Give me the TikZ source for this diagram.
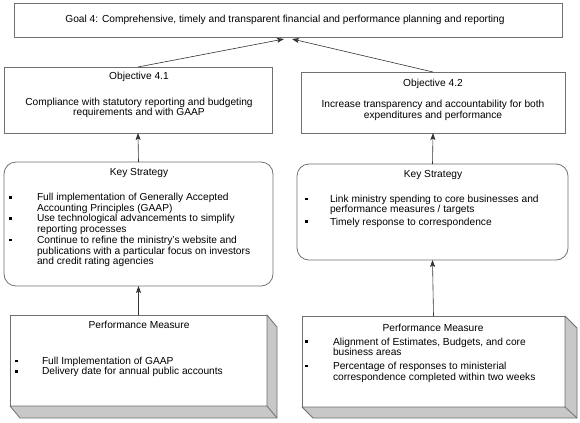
\documentclass[tikz,border=0pt]{standalone}
\usepackage{fontspec}
\setmainfont{Liberation Sans}
\usetikzlibrary{arrows.meta,calc}
\definecolor{boxline}{HTML}{707070}
\definecolor{shade}{HTML}{C8C8C8}
\newcommand{\bsq}{\rule[2bp]{2.6bp}{2.6bp}}
\newcommand{\bitem}[1]{\makebox[28bp][l]{\bsq}#1}
\newcommand{\bcont}[1]{\hspace*{28bp}#1}
\begin{document}
\begin{tikzpicture}[x=1bp,y=-1bp,
  font=\fontsize{10.2bp}{10.7bp}\selectfont,
  box/.style={draw=boxline,line width=0.8bp,fill=white,inner sep=0pt,outer sep=0pt,anchor=north west},
  rbox/.style={box,rounded corners=12bp},
  txt/.style={inner sep=0pt,outer sep=0pt},
  blist/.style={txt,align=left,anchor=west},
  conn/.style={draw=black!80,line width=0.6bp,-{Stealth[length=7bp,width=5bp,inset=1.5bp]}},
  depth/.style={fill=shade,draw=boxline,line width=0.8bp,line join=round}]
\useasboundingbox (0,0) rectangle (580,422);

% boxes
\node[box,minimum width=548bp,minimum height=34bp] (goal) at (14,3) {};
\node[box,minimum width=268bp,minimum height=66bp] (obj1) at (4,67) {};
\node[box,minimum width=264bp,minimum height=61bp] (obj2) at (301,72) {};
\node[rbox,minimum width=269bp,minimum height=124bp] (ks1) at (4,162) {};
\node[rbox,minimum width=271bp,minimum height=96bp] (ks2) at (297,164) {};
\node[box,minimum width=257bp,minimum height=91bp] (pm1) at (10,315) {};
\node[box,minimum width=263bp,minimum height=91bp] (pm2) at (302,316) {};

% 3-D depth of performance measure boxes
\path[depth] (pm1.north east) -- ++(10,12) |- ($(pm1.south west)+(10,12)$) -- (pm1.south west) -- (pm1.south east) -- cycle;
\draw[boxline,line width=0.8bp] (pm1.south east) -- ++(10,12);
\path[depth] (pm2.north east) -- ++(12,12) |- ($(pm2.south west)+(11,11)$) -- (pm2.south west) -- (pm2.south east) -- cycle;
\draw[boxline,line width=0.8bp] (pm2.south east) -- ++(12,11);

% texts
\node[txt] (goalt) at (285,20) {Goal 4: Comprehensive, timely and transparent financial and performance planning and reporting};

\node[txt] (obj1t) at (139,77) {Objective 4.1};
\node[txt,align=center] (obj1b) at (139,108) {Compliance with statutory reporting and budgeting\\requirements and with GAAP};

\node[txt] (obj2t) at (433,84) {Objective 4.2};
\node[txt,align=center] (obj2b) at (433,110.5) {Increase transparency and accountability for both\\expenditures and performance};

\node[txt] (ks1t) at (139,173) {Key Strategy};
\node[blist] (ks1b) at (9,230) {\bitem{Full implementation of Generally Accepted}\\
\bcont{Accounting Principles (GAAP)}\\
\bitem{Use technological advancements to simplify}\\
\bcont{reporting processes}\\
\bitem{Continue to refine the ministry's website and}\\
\bcont{publications with a particular focus on investors}\\
\bcont{and credit rating agencies}};

\node[txt] (ks2t) at (433,175) {Key Strategy};
\node[blist] (ks2b) at (305,211) {\makebox[25bp][l]{\bsq}Link ministry spending to core businesses and\\
\hspace*{25bp}performance measures / targets\\[1.5bp]
\makebox[25bp][l]{\bsq}Timely response to correspondence};

\node[txt] (pm1t) at (139,325) {Performance Measure};
\node[blist] (pm1b) at (15,367) {\makebox[27bp][l]{\bsq}Full Implementation of GAAP\\
\makebox[27bp][l]{\bsq}Delivery date for annual public accounts};

\node[txt] (pm2t) at (433,328) {Performance Measure};
\node[blist] (pm2b) at (305,360) {\bitem{Alignment of Estimates, Budgets, and core}\\
\bcont{business areas}\\[3bp]
\bitem{Percentage of responses to ministerial}\\
\bcont{correspondence completed within two weeks}};

% connectors
\coordinate (gl) at ($(goal.south)+(-4,2)$);
\coordinate (gr) at ($(goal.south)+(4,2)$);
\draw[conn] (obj1.north) -- (gl);
\draw[conn] (obj2.north) -- (gr);
\draw[conn] (ks1.north) -- (obj1.south);
\draw[conn] (ks2.north) -- (obj2.south);
\draw[conn] (pm1.north) -- (ks1.south);
\draw[conn] (pm2.north) -- (ks2.south);
\end{tikzpicture}
\end{document}
